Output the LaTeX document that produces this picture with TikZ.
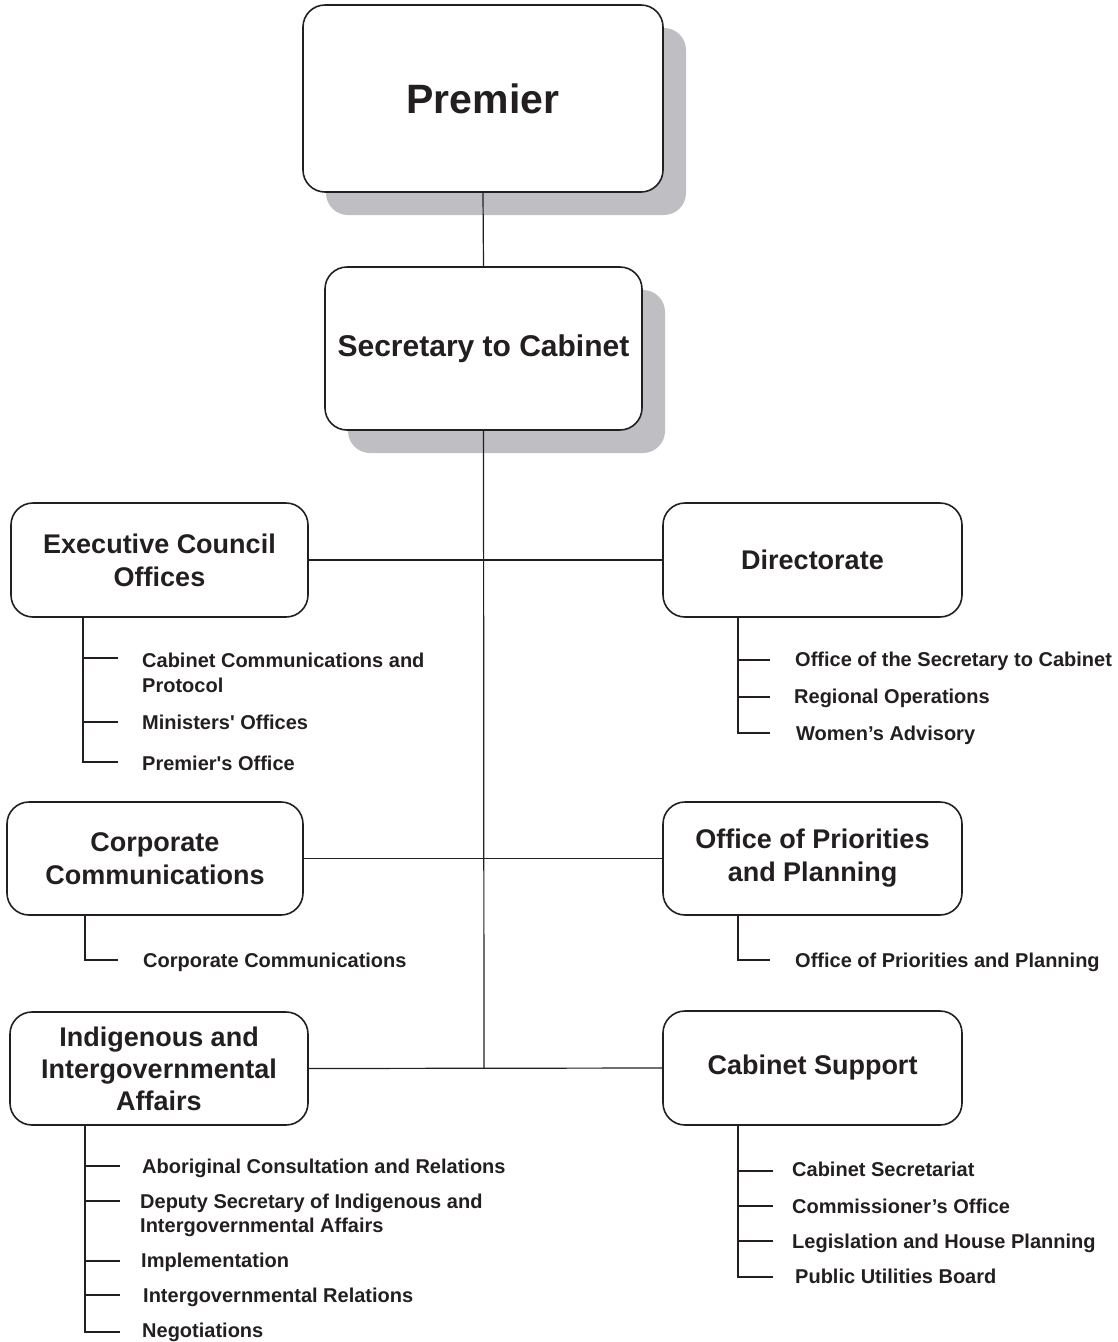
\documentclass[tikz,border=0pt]{standalone}
\usepackage{fontspec}
\setmainfont{Liberation Sans}
\usetikzlibrary{shadows}
\definecolor{ink}{HTML}{231F20}
\definecolor{shade}{HTML}{BFBFC3}
\begin{document}
\begin{tikzpicture}[x=1pt,y=-1pt,
  orgbox/.style={draw=ink,line width=1.6pt,rounded corners=22pt,fill=white,inner sep=0pt,
     align=center,text=ink,font=\bfseries\fontsize{27}{33}\selectfont},
  shadowed/.style={drop shadow={shadow xshift=23pt,shadow yshift=-23pt,fill=shade,opacity=1}},
  subtext/.style={anchor=base west,inner sep=0pt,align=left,text=ink,font=\bfseries\fontsize{20}{24.5}\selectfont},
  conn/.style={draw=ink,line width=1.2pt},
  tick/.style={draw=ink,line width=1.5pt}]
\useasboundingbox (0,0) rectangle (1118,1342);

% main boxes
\node[orgbox,shadowed,minimum width=360pt,minimum height=187pt,font=\bfseries\fontsize{41}{48}\selectfont] (prem) at (483,98.5) {Premier};
\node[orgbox,shadowed,minimum width=317pt,minimum height=163pt,font=\bfseries\fontsize{30}{36}\selectfont] (sec) at (483.5,348.5) {Secretary to Cabinet};

\node[orgbox,minimum width=297pt,minimum height=114pt] (eco) at (159.5,560) {Executive Council\\Offices};
\node[orgbox,minimum width=299pt,minimum height=114pt] (dir) at (812.5,560) {Directorate};
\node[orgbox,minimum width=296pt,minimum height=113pt] (cc) at (155,858.5) {Corporate\\Communications};
\node[orgbox,minimum width=299pt,minimum height=113pt] (opp) at (812.5,858.5) {Office of Priorities\\and Planning};
\node[orgbox,minimum width=298pt,minimum height=113pt,font=\bfseries\fontsize{27}{32}\selectfont] (iia) at (159,1068.5) {Indigenous and\\Intergovernmental\\Affairs};
\node[orgbox,minimum width=299pt,minimum height=114pt] (cs) at (812.5,1068) {Cabinet Support};

% trunk
\coordinate (trunkEnd) at (484,1068);
\draw[conn] (prem.south) -- (sec.north);
\draw[conn] (sec.south) -- (trunkEnd);
\draw[conn] (eco.east) -- (dir.west);
\draw[conn] (cc.east) -- (opp.west);
\draw[conn] (iia.east) -- (cs.west);

% Executive Council Offices group
\coordinate (eT) at (83,0);
\coordinate (e1t) at (118,658);
\coordinate (e2t) at (118,722);
\coordinate (e3t) at (118,762);
\node[subtext] (e1) at (142,692) {Cabinet Communications and\\Protocol};
\node[subtext] (e2) at (142,729) {Ministers\textquotesingle\ Offices};
\node[subtext] (e3) at (142,770) {Premier\textquotesingle s Office};
\draw[tick] (eco.south -| eT) |- (e3t);
\draw[tick] (e1t -| eT) -- (e1t);
\draw[tick] (e2t -| eT) -- (e2t);

% Directorate group
\coordinate (dT) at (738,0);
\coordinate (d1t) at (770,660);
\coordinate (d2t) at (770,697);
\coordinate (d3t) at (770,733);
\node[subtext] (d1) at (795,666) {Office of the Secretary to Cabinet};
\node[subtext] (d2) at (794,703) {Regional Operations};
\node[subtext] (d3) at (796,740) {Women’s Advisory};
\draw[tick] (dir.south -| dT) |- (d3t);
\draw[tick] (d1t -| dT) -- (d1t);
\draw[tick] (d2t -| dT) -- (d2t);

% Corporate Communications group
\coordinate (cT) at (85,0);
\coordinate (c1t) at (118,960);
\node[subtext] (c1) at (143,967) {Corporate Communications};
\draw[tick] (cc.south -| cT) |- (c1t);

% Office of Priorities group
\coordinate (oT) at (738,0);
\coordinate (o1t) at (770,960);
\node[subtext] (o1) at (795,967) {Office of Priorities and Planning};
\draw[tick] (opp.south -| oT) |- (o1t);

% Indigenous group
\coordinate (iT) at (85,0);
\coordinate (i1t) at (120,1166);
\coordinate (i2t) at (120,1201);
\coordinate (i3t) at (120,1261);
\coordinate (i4t) at (120,1295);
\coordinate (i5t) at (120,1332);
\node[subtext] (i1) at (142,1173) {Aboriginal Consultation and Relations};
\node[subtext,font=\bfseries\fontsize{20}{23.5}\selectfont] (i2) at (140,1232) {Deputy Secretary of Indigenous and\\Intergovernmental Affairs};
\node[subtext] (i3) at (141,1267) {Implementation};
\node[subtext] (i4) at (143,1302) {Intergovernmental Relations};
\node[subtext] (i5) at (142,1337) {Negotiations};
\draw[tick] (iia.south -| iT) |- (i5t);
\draw[tick] (i1t -| iT) -- (i1t);
\draw[tick] (i2t -| iT) -- (i2t);
\draw[tick] (i3t -| iT) -- (i3t);
\draw[tick] (i4t -| iT) -- (i4t);

% Cabinet Support group
\coordinate (sT) at (738,0);
\coordinate (s1t) at (773,1171);
\coordinate (s2t) at (773,1206);
\coordinate (s3t) at (773,1241);
\coordinate (s4t) at (773,1277);
\node[subtext] (s1) at (792,1176) {Cabinet Secretariat};
\node[subtext] (s2) at (792,1213) {Commissioner’s Office};
\node[subtext] (s3) at (792,1248) {Legislation and House Planning};
\node[subtext] (s4) at (795,1283) {Public Utilities Board};
\draw[tick] (cs.south -| sT) |- (s4t);
\draw[tick] (s1t -| sT) -- (s1t);
\draw[tick] (s2t -| sT) -- (s2t);
\draw[tick] (s3t -| sT) -- (s3t);
\end{tikzpicture}
\end{document}
